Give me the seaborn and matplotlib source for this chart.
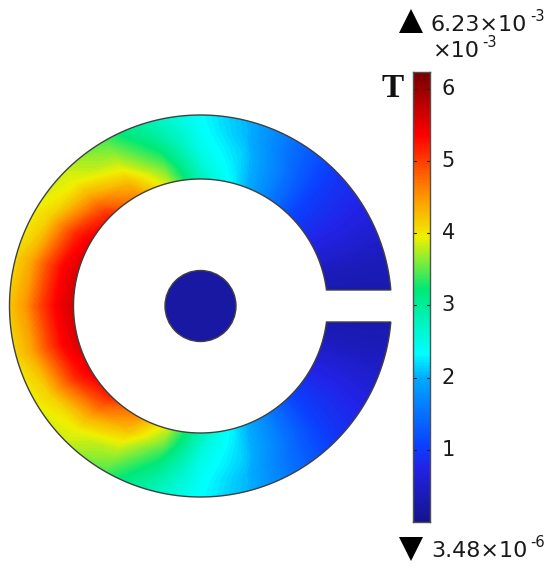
import numpy as np
import matplotlib
matplotlib.use("Agg")
import matplotlib.pyplot as plt
from matplotlib.colors import LinearSegmentedColormap, Normalize
from matplotlib.path import Path
from matplotlib.patches import PathPatch, Circle
import seaborn as sns

sns.set_theme(style="white")
plt.rcParams['font.family'] = ['DejaVu Sans']

# field values (in 1e-3 T), upper half, by angle and radius
angles_upper = [0, 15, 30, 45, 60, 75, 90, 105, 120, 135, 150, 165, 180]
radii = [120, 143, 159, 175, 198]
r_inner = [0.20, 0.40, 0.75, 1.10, 1.70, 2.30, 2.90, 3.95, 4.70, 5.35, 5.60, 5.70, 5.75]
r_mid1  = [0.20, 0.40, 0.75, 1.05, 1.65, 2.20, 2.60, 3.55, 4.25, 4.75, 5.15, 5.35, 5.40]
r_mid2  = [0.20, 0.40, 0.75, 1.02, 1.60, 2.15, 2.45, 3.25, 3.90, 4.30, 4.65, 4.90, 5.00]
r_mid3  = [0.20, 0.40, 0.72, 1.00, 1.50, 2.05, 2.38, 3.00, 3.65, 3.95, 4.15, 4.40, 4.50]
r_outer = [0.25, 0.40, 0.70, 0.95, 1.45, 2.00, 2.32, 2.75, 3.35, 3.78, 3.90, 4.00, 4.10]
disc_value = 0.2
vmin, vmax = 0.00348e-3 * 1e3, 6.23
bar_ticks = [1, 2, 3, 4, 5, 6]

# Rainbow colour map of the reference
cmap_stops = [0.0, 0.12, 0.17, 0.32, 0.374, 0.518, 0.635, 0.73, 0.86, 1.0]
cmap_colors = ["#14148c", "#2222e6", "#0a40ff", "#00aaff", "#00ffff", "#00e878",
               "#f0f000", "#ff9000", "#ff0000", "#780000"]
cmap = LinearSegmentedColormap.from_list("rainbow_c", list(zip(cmap_stops, cmap_colors)), N=512)
norm = Normalize(0, vmax)

W, H = 550, 572
cx, cy = 200.5, 306.0
R_out, R_in, R_disc, gap_half = 191.0, 127.0, 35.5, 16.0
edge = "#404040"

fig = plt.figure(figsize=(W / 100, H / 100), dpi=100)
ax = fig.add_axes([0, 0, 1, 1])
ax.set_xlim(0, W)
ax.set_ylim(H, 0)
ax.axis("off")

upper = np.array([r_inner, r_mid1, r_mid2, r_mid3, r_outer])
field = np.hstack([upper, upper[:, -2::-1]])
theta = np.deg2rad(angles_upper + [360 - a for a in angles_upper[-2::-1]])
T, RR = np.meshgrid(theta, radii)
X = cx + RR * np.cos(T)
Y = cy - RR * np.sin(T)

# outline of the slotted ring
a_out = np.arcsin(gap_half / R_out)
a_in = np.arcsin(gap_half / R_in)
t_o = np.linspace(a_out, 2 * np.pi - a_out, 400)
t_i = np.linspace(2 * np.pi - a_in, a_in, 300)
pts = np.vstack([
    np.c_[cx + R_out * np.cos(t_o), cy - R_out * np.sin(t_o)],
    np.c_[cx + R_in * np.cos(t_i), cy - R_in * np.sin(t_i)],
])
pts = np.vstack([pts, pts[0]])
ring = Path(pts, closed=True)
outline = PathPatch(ring, transform=ax.transData, fc="none", ec=edge, lw=1.0, zorder=3)
ax.add_patch(outline)

cs = ax.contourf(X, Y, field, levels=np.linspace(0, vmax, 160), cmap=cmap, norm=norm,
                 antialiased=False, zorder=2, extend="both")
cs.set_clip_path(ring, transform=ax.transData)

ax.add_patch(Circle((cx, cy), R_disc, fc=cmap(norm(disc_value)), ec=edge, lw=1.0, zorder=3))

# colour bar
bx0, bx1, by0, by1 = 413, 430, 72, 522
cax = fig.add_axes([bx0 / W, 1 - by1 / H, (bx1 - bx0) / W, (by1 - by0) / H])
n = 300
ramp = np.linspace(vmax, vmin, n)[:, None]
sns.heatmap(ramp, ax=cax, cmap=cmap, norm=norm, cbar=False, xticklabels=False, yticklabels=False)
cax.set_xlabel("")
cax.set_ylabel("")
for s in cax.spines.values():
    s.set_visible(True)
    s.set_color("#505050")
    s.set_linewidth(1.0)
tick_rows = [(vmax - v) / (vmax - vmin) * n for v in bar_ticks]
for r, v in zip(tick_rows, bar_ticks):
    cax.plot([0, 0.16], [r, r], color="#202020", lw=0.8, clip_on=False)
    cax.plot([0.84, 1], [r, r], color="#202020", lw=0.8, clip_on=False)
    cax.annotate(str(v), xy=(1, r), xycoords=("axes fraction", "data"), xytext=(8.5, 0),
                 textcoords="offset points", ha="left", va="center", fontsize=15, color="#1a1a1a")

txt = dict(color="#1a1a1a", fontsize=16, va="baseline", ha="left", zorder=5)
sup = dict(color="#1a1a1a", fontsize=10.5, va="baseline", ha="left", zorder=5)
ax.plot(411, 21, marker="^", ms=17, color="black", mew=0, clip_on=False)
ax.text(431, 31, "6.23×10", **txt)
ax.text(530, 21, "-3", **sup)
ax.text(433, 57, "×10", **txt)
ax.text(482, 47, "-3", **sup)
ax.plot(411, 549, marker="v", ms=17, color="black", mew=0, clip_on=False)
ax.text(431, 557, "3.48×10", **txt)
ax.text(530, 547, "-6", **sup)
ax.text(393, 97, "T", fontsize=24, family="Liberation Serif", fontweight="bold",
        ha="center", va="baseline", color="#111111")

fig.savefig("out.png", dpi=100, facecolor="white")
